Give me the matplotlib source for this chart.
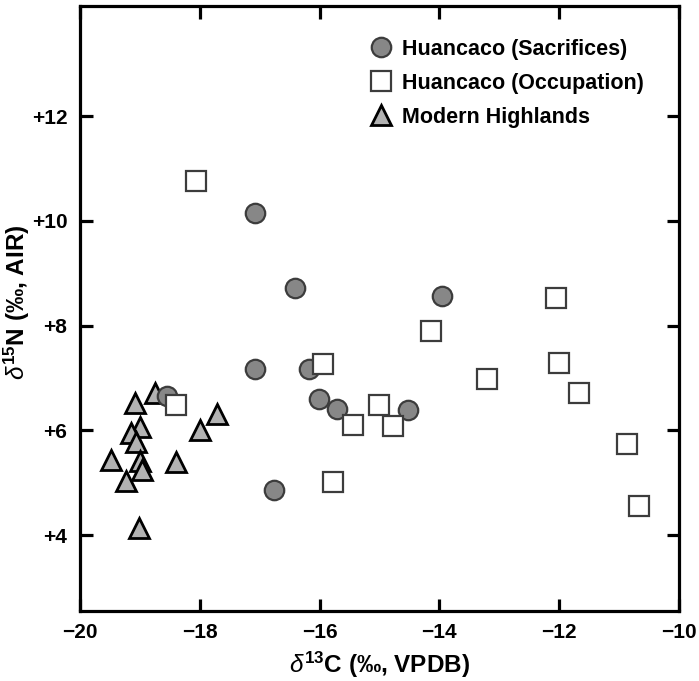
import matplotlib
matplotlib.use("Agg")
import matplotlib.pyplot as plt

plt.rcParams['font.family'] = ['Liberation Sans', 'DejaVu Sans']
plt.rcParams['mathtext.fontset'] = 'custom'
plt.rcParams['mathtext.rm'] = 'Liberation Sans:bold'
plt.rcParams['mathtext.bf'] = 'Liberation Sans:bold'
plt.rcParams['mathtext.it'] = 'Liberation Sans:italic'

# Huancaco (Sacrifices)
sac_c13 = [-17.08, -16.41, -13.96, -17.08, -16.18, -18.54, -16.01, -15.71, -14.53, -16.76]
sac_n15 = [10.14, 8.72, 8.57, 7.17, 7.17, 6.66, 6.60, 6.41, 6.39, 4.86]

# Huancaco (Occupation)
occ_c13 = [-18.07, -18.39, -15.94, -14.14, -15.45, -15.00, -14.78, -15.77,
           -12.05, -13.20, -12.00, -11.67, -10.86, -10.67]
occ_n15 = [10.76, 6.49, 7.27, 7.90, 6.11, 6.48, 6.09, 5.02,
           8.52, 6.98, 7.29, 6.72, 5.73, 4.55]

# Modern Highlands
mod_c13 = [-18.75, -19.08, -17.72, -18.00, -19.00, -19.15, -19.06, -19.49,
           -18.40, -19.00, -18.97, -19.23, -19.01]
mod_n15 = [6.71, 6.52, 6.32, 6.01, 6.06, 5.95, 5.77, 5.43,
           5.40, 5.42, 5.24, 5.03, 4.14]

xticks = [-20, -18, -16, -14, -12, -10]
xticklabels = ['\u221220', '\u221218', '\u221216', '\u221214', '\u221212', '\u221210']
yticks = [4, 6, 8, 10, 12]
yticklabels = ['+4', '+6', '+8', '+10', '+12']

fig = plt.figure(figsize=(6.99, 6.81), dpi=100)
ax = fig.add_axes([80/699, 1 - 611/681, (679-80)/699, (611-6)/681])

ms = 14
ax.plot(sac_c13, sac_n15, 'o', ms=ms, mfc='#878787', mec='#3c3c3c', mew=1.6,
        ls='none', label='Huancaco (Sacrifices)', zorder=3)
ax.plot(occ_c13, occ_n15, 's', ms=ms, mfc='white', mec='#3c3c3c', mew=1.6,
        ls='none', label='Huancaco (Occupation)', zorder=4)
ax.plot(mod_c13, mod_n15, '^', ms=ms, mfc='#b2b2b2', mec='black', mew=2.0,
        ls='none', label='Modern Highlands', zorder=2)

ax.set_xlim(-20, -10)
ax.set_ylim(2.55, 14.1)
ax.set_xticks(xticks)
ax.set_xticklabels(xticklabels)
ax.set_yticks(yticks)
ax.set_yticklabels(yticklabels)

for s in ax.spines.values():
    s.set_linewidth(2.3)
ax.tick_params(direction='in', length=9, width=2.3, top=True, right=True,
               labelsize=15, pad=9)
for lab in ax.get_xticklabels() + ax.get_yticklabels():
    lab.set_fontweight('bold')

ax.set_xlabel(r'$\mathit{\delta}^{13}$C (‰, VPDB)', fontsize=17.5, fontweight='bold', labelpad=5)
ax.set_ylabel(r'$\mathit{\delta}^{15}$N (‰, AIR)', fontsize=17.5, fontweight='bold')
ax.yaxis.set_label_coords(-0.080, 0.51)

leg = ax.legend(loc='upper left', bbox_to_anchor=(0.4697, 0.9605), frameon=False,
                prop={'weight': 'bold', 'size': 15.5}, handletextpad=0.48,
                labelspacing=0.61, handlelength=1.0, borderaxespad=0)

fig.savefig('out.png', dpi=100)
